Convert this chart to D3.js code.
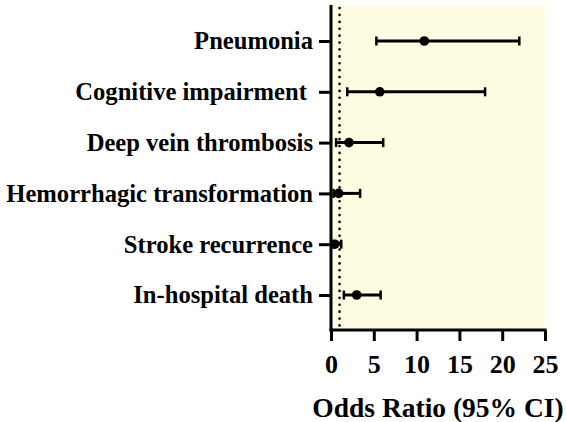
<!DOCTYPE html>
<html>
<head>
<meta charset="utf-8">
<script src="https://cdn.jsdelivr.net/npm/d3@7"></script>
<style>
  body { margin: 0; background: #fff; }
  svg text { font-family: "Liberation Serif", "Times New Roman", serif; font-weight: bold; fill: #000; }
</style>
</head>
<body>
<svg id="chart" width="566" height="422"></svg>
<script>
const outcomes = ["Pneumonia", "Cognitive impairment ", "Deep vein thrombosis", "Hemorrhagic transformation", "Stroke recurrence", "In-hospital death"];
const oddsRatio = [10.9, 5.7, 2.1, 0.9, 0.45, 3.0];
const ciLower = [5.3, 1.9, 0.6, 0.3, 0.2, 1.5];
const ciUpper = [22.0, 18.0, 6.1, 3.4, 1.2, 5.8];
const xTicks = [0, 5, 10, 15, 20, 25];

const svg = d3.select("#chart");
const plotLeft = 331, plotRight = 545, plotTop = 6, plotBottom = 330;

const x = d3.scaleLinear().domain([0, 25]).range([plotLeft, plotRight]);
const y = d3.scalePoint().domain(outcomes).range([41, 295]);

// shaded plot area
svg.append("rect")
  .attr("x", plotLeft).attr("y", plotTop)
  .attr("width", plotRight - plotLeft).attr("height", plotBottom - plotTop)
  .attr("fill", "#fefce1");

// reference line at OR = 1
svg.append("line")
  .attr("x1", x(1)).attr("x2", x(1))
  .attr("y1", plotTop + 2).attr("y2", plotBottom - 2)
  .attr("stroke", "#000").attr("stroke-width", 2.6)
  .attr("stroke-dasharray", "0.1 6.8").attr("stroke-linecap", "round");

const rows = outcomes.map((name, i) => ({ name, or: oddsRatio[i], lo: ciLower[i], hi: ciUpper[i] }));

const g = svg.append("g").attr("class", "bars");
g.selectAll(".ci").data(rows).enter().append("line")
  .attr("x1", d => x(d.lo)).attr("x2", d => x(d.hi))
  .attr("y1", d => y(d.name)).attr("y2", d => y(d.name))
  .attr("stroke", "#000").attr("stroke-width", 3);
["lo", "hi"].forEach(k => {
  g.selectAll(".cap-" + k).data(rows).enter().append("line")
    .attr("x1", d => x(d[k])).attr("x2", d => x(d[k]))
    .attr("y1", d => y(d.name) - 4.5).attr("y2", d => y(d.name) + 4.5)
    .attr("stroke", "#000").attr("stroke-width", 2.5);
});
g.selectAll("circle").data(rows).enter().append("circle")
  .attr("cx", d => x(d.or)).attr("cy", d => y(d.name))
  .attr("r", 4.8).attr("fill", "#000");

// x axis
const xAxis = d3.axisBottom(x).tickValues(xTicks).tickSize(11);
const gx = svg.append("g").attr("transform", `translate(0,${plotBottom})`).call(xAxis);
gx.attr("font-family", null);
gx.select(".domain").attr("stroke-width", 3).attr("d", `M${plotLeft - 1.5},0H${plotRight + 1.5}`);
gx.selectAll(".tick line").attr("stroke-width", 3);
gx.selectAll(".tick text")
  .attr("y", 43).attr("dy", null)
  .style("font-size", "26px").style("font-family", "'Liberation Serif', serif").attr("font-weight", "bold");

// y axis
const yAxis = d3.axisLeft(y).tickSize(12).tickPadding(6);
const gy = svg.append("g").attr("transform", `translate(${plotLeft},0)`).call(yAxis);
gy.attr("font-family", null);
gy.select(".domain").attr("stroke-width", 3).attr("d", `M0,${plotTop - 1}V${plotBottom + 1.5}`);
gy.selectAll(".tick line").attr("stroke-width", 3);
gy.selectAll(".tick text")
  .style("font-size", "24.6px").style("font-family", "'Liberation Serif', serif").attr("font-weight", "bold")
  .style("white-space", "pre");

svg.append("text")
  .attr("x", 438).attr("y", 417)
  .attr("text-anchor", "middle")
  .style("font-size", "27.5px")
  .text("Odds Ratio (95% CI)");
</script>
</body>
</html>
